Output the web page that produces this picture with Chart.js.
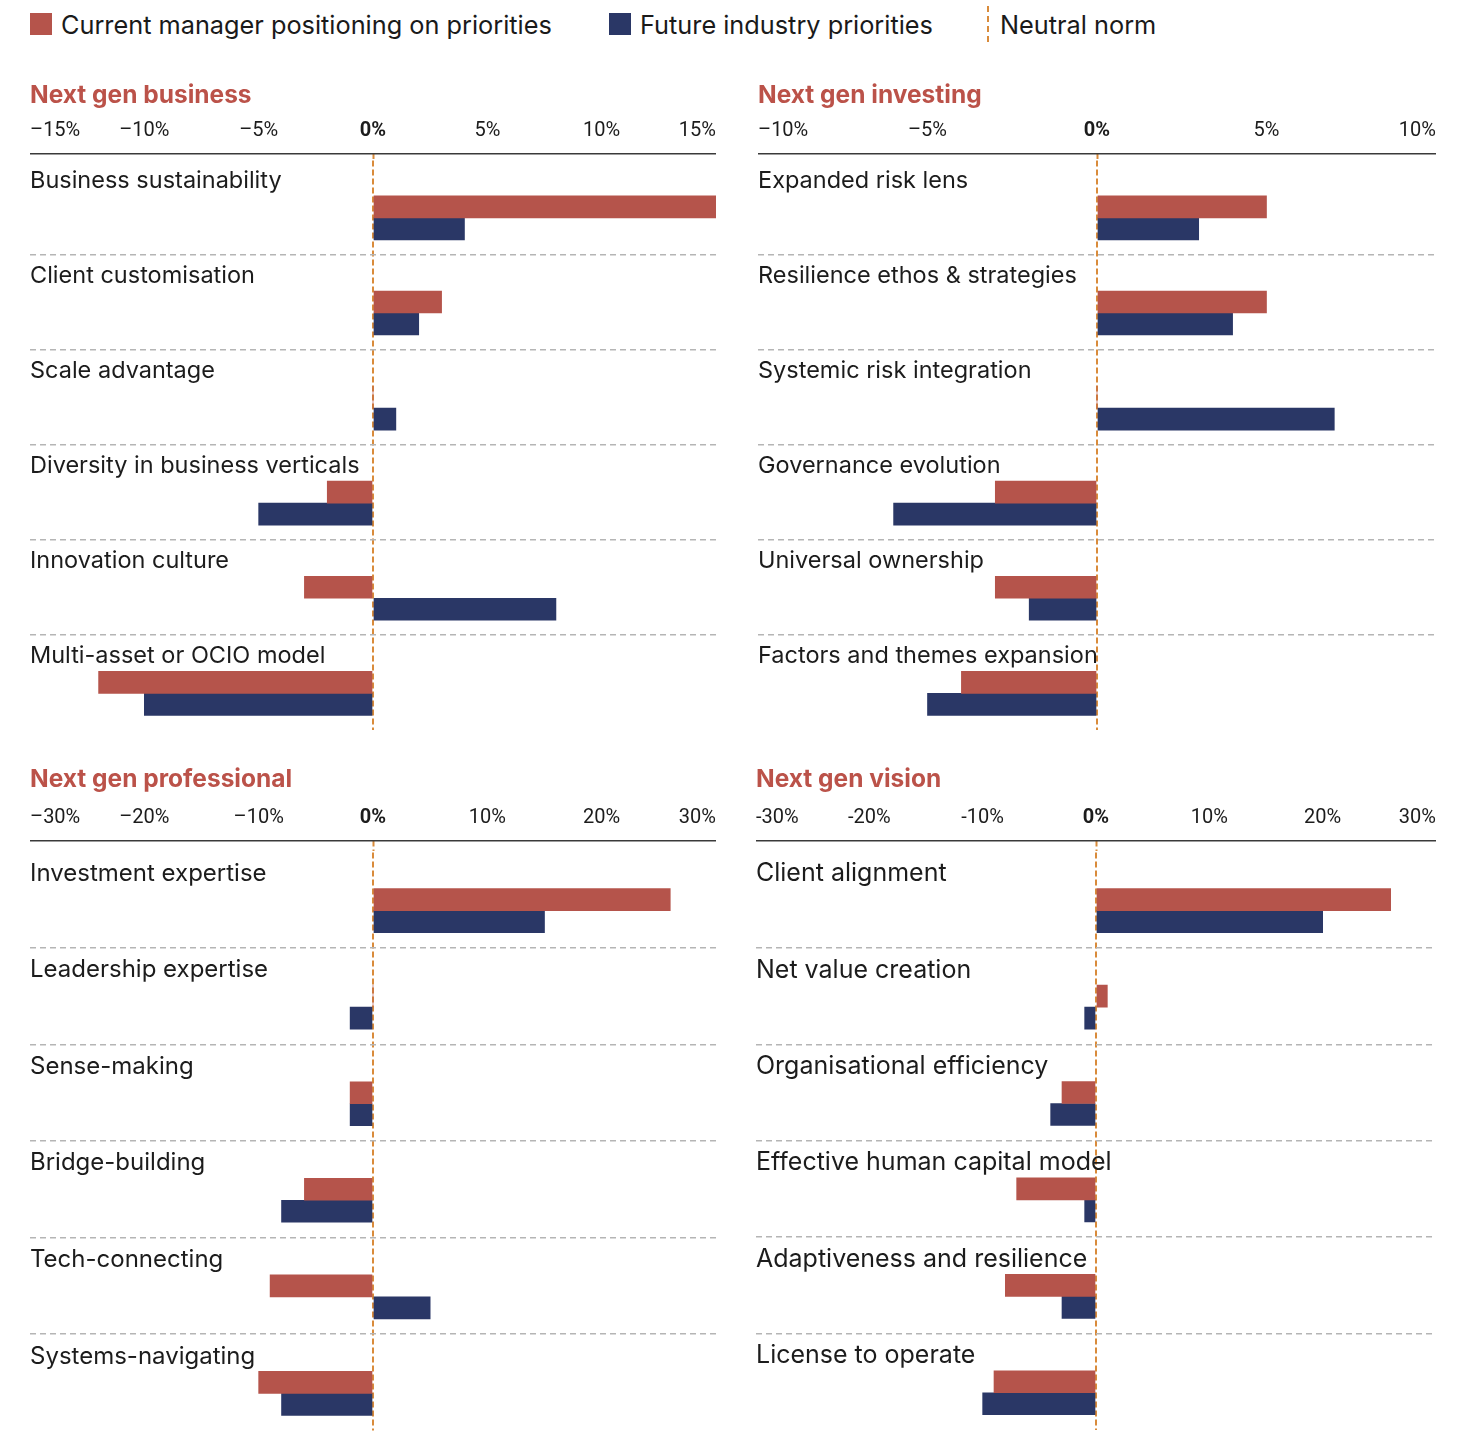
<!DOCTYPE html>
<html>
<head>
<meta charset="utf-8">
<title>Next gen priorities</title>
<script src="https://cdn.jsdelivr.net/npm/chart.js@4.4.1/dist/chart.umd.min.js"></script>
<style>
  html, body { margin: 0; padding: 0; background: #fff; overflow: hidden; }
  body { width: 1471px; height: 1436px; position: relative; font-family: Inter, sans-serif; }
  .legend-item { position: absolute; top: 8px; height: 32px; display: flex; align-items: center; font-size: 25.3px; color: #1a1a1a; white-space: nowrap; }
  .swatch { width: 22px; height: 22px; margin-right: 9px; }
  .norm { width: 0; height: 36px; border-left: 2px dashed; margin-right: 11px; }
  .panel { position: absolute; }
</style>
</head>
<body>
<div id="legend"></div>
<div class="panel" style="left:30px; top:70px; width:686px; height:674px;"><canvas id="business"></canvas></div>
<div class="panel" style="left:758px; top:70px; width:678px; height:674px;"><canvas id="investing"></canvas></div>
<div class="panel" style="left:30px; top:754px; width:686px; height:691px;"><canvas id="professional"></canvas></div>
<div class="panel" style="left:756px; top:754px; width:680px; height:691px;"><canvas id="vision"></canvas></div>
<script>
  // Series names
  const currentLabel = 'Current manager positioning on priorities';
  const futureLabel = 'Future industry priorities';
  const neutralLabel = 'Neutral norm';

  // Next gen business
  const businessCategories = ['Business sustainability', 'Client customisation', 'Scale advantage', 'Diversity in business verticals', 'Innovation culture', 'Multi-asset or OCIO model'];
  const businessCurrent = [15, 3, 0, -2, -3, -12];
  const businessFuture = [4, 2, 1, -5, 8, -10];
  const businessTicks = ['–15%', '–10%', '–5%', '0%', '5%', '10%', '15%'];

  // Next gen investing
  const investingCategories = ['Expanded risk lens', 'Resilience ethos & strategies', 'Systemic risk integration', 'Governance evolution', 'Universal ownership', 'Factors and themes expansion'];
  const investingCurrent = [5, 5, 0, -3, -3, -4];
  const investingFuture = [3, 4, 7, -6, -2, -5];
  const investingTicks = ['–10%', '–5%', '0%', '5%', '10%'];

  // Next gen professional
  const professionalCategories = ['Investment expertise', 'Leadership expertise', 'Sense-making', 'Bridge-building', 'Tech-connecting', 'Systems-navigating'];
  const professionalCurrent = [26, 0, -2, -6, -9, -10];
  const professionalFuture = [15, -2, -2, -8, 5, -8];
  const professionalTicks = ['–30%', '–20%', '–10%', '0%', '10%', '20%', '30%'];

  // Next gen vision
  const visionCategories = ['Client alignment', 'Net value creation', 'Organisational efficiency', 'Effective human capital model', 'Adaptiveness and resilience', 'License to operate'];
  const visionCurrent = [26, 1, -3, -7, -8, -9];
  const visionFuture = [20, -1, -4, -1, -3, -10];
  const visionTicks = ['-30%', '-20%', '-10%', '0%', '10%', '20%', '30%'];

  const red = '#b5544b';
  const navy = '#2a3766';
  const orange = '#d98b3b';
  const titleRed = '#bb5249';
  const textColor = '#1c1c1c';

  // Legend across the top of the page
  const legend = document.getElementById('legend');
  [[currentLabel, red, 30, 'swatch'], [futureLabel, navy, 609, 'swatch'], [neutralLabel, orange, 987, 'norm']].forEach(([text, color, left, kind]) => {
    const item = document.createElement('div');
    item.className = 'legend-item';
    item.style.left = left + 'px';
    const mark = document.createElement('span');
    mark.className = kind;
    if (kind === 'swatch') mark.style.background = color;
    else mark.style.borderColor = color;
    item.appendChild(mark);
    item.appendChild(document.createTextNode(text));
    legend.appendChild(item);
  });

  function makePanel(id, title, categories, current, future, limit, step, tickLabels, gap, labelSize) {
    const ctx = document.getElementById(id).getContext('2d');
    return new Chart(ctx, {
      type: 'bar',
      data: {
        labels: categories,
        datasets: [{
          label: 'row label slot', // empty slot, keeps the bars under the row label
          data: categories.map(() => null)
        }, {
          label: currentLabel,
          data: current,
          backgroundColor: red
        }, {
          label: futureLabel,
          data: future,
          backgroundColor: navy
        }]
      },
      options: {
        indexAxis: 'y',
        responsive: true,
        maintainAspectRatio: false,
        animation: false,
        datasets: { bar: { barThickness: 22 } },
        plugins: {
          legend: { display: false },
          tooltip: { enabled: false },
          title: {
            display: true,
            text: title,
            align: 'start',
            color: titleRed,
            font: { family: 'Inter', size: 24.5, weight: 'bold' },
            padding: { top: 11, bottom: gap > 8 ? 12 : 9 }
          }
        },
        scales: {
          x: {
            type: 'linear',
            position: 'top',
            min: -limit,
            max: limit,
            weight: 1,
            z: 1,
            ticks: {
              stepSize: step,
              align: 'inner',
              padding: 0,
              color: textColor,
              font: c => ({ family: 'Roboto', size: 20, weight: c.tick && c.tick.value === 0 ? 'bold' : 'normal' }),
              callback: (value, index) => tickLabels[index]
            },
            grid: {
              drawTicks: true,
              tickLength: 10,
              tickColor: 'transparent',
              lineWidth: 2,
              color: c => (c.tick && c.tick.value === 0) ? orange : 'transparent'
            },
            border: { display: true, color: '#3a3a3a', width: 1.5, dash: [6, 3] }
          },
          // small gap between the axis line and the first row
          gap: {
            type: 'linear',
            position: 'top',
            min: -limit,
            max: limit,
            weight: 0,
            display: true,
            ticks: { display: false, stepSize: step },
            grid: {
              drawOnChartArea: false,
              drawTicks: true,
              tickLength: gap,
              tickWidth: 2,
              tickBorderDash: [6, 3],
              tickColor: c => (c.tick && c.tick.value === 0) ? orange : 'transparent'
            },
            border: { display: false }
          },
          y: {
            type: 'category',
            offset: true,
            ticks: {
              mirror: true,
              padding: 0,
              labelOffset: -26,
              color: textColor,
              font: { family: 'Inter', size: labelSize }
            },
            grid: {
              offset: true,
              drawTicks: false,
              lineWidth: 1.5,
              color: c => (c.index > 0) ? '#b5b5b5' : 'transparent'
            },
            border: { display: false, dash: [6, 4] }
          }
        }
      }
    });
  }

  makePanel('business', 'Next gen business', businessCategories, businessCurrent, businessFuture, 15, 5, businessTicks, 6, 23.5);
  makePanel('investing', 'Next gen investing', investingCategories, investingCurrent, investingFuture, 10, 5, investingTicks, 6, 23.5);
  makePanel('professional', 'Next gen professional', professionalCategories, professionalCurrent, professionalFuture, 30, 10, professionalTicks, 11, 24);
  makePanel('vision', 'Next gen vision', visionCategories, visionCurrent, visionFuture, 30, 10, visionTicks, 11, 25);
</script>
</body>
</html>
